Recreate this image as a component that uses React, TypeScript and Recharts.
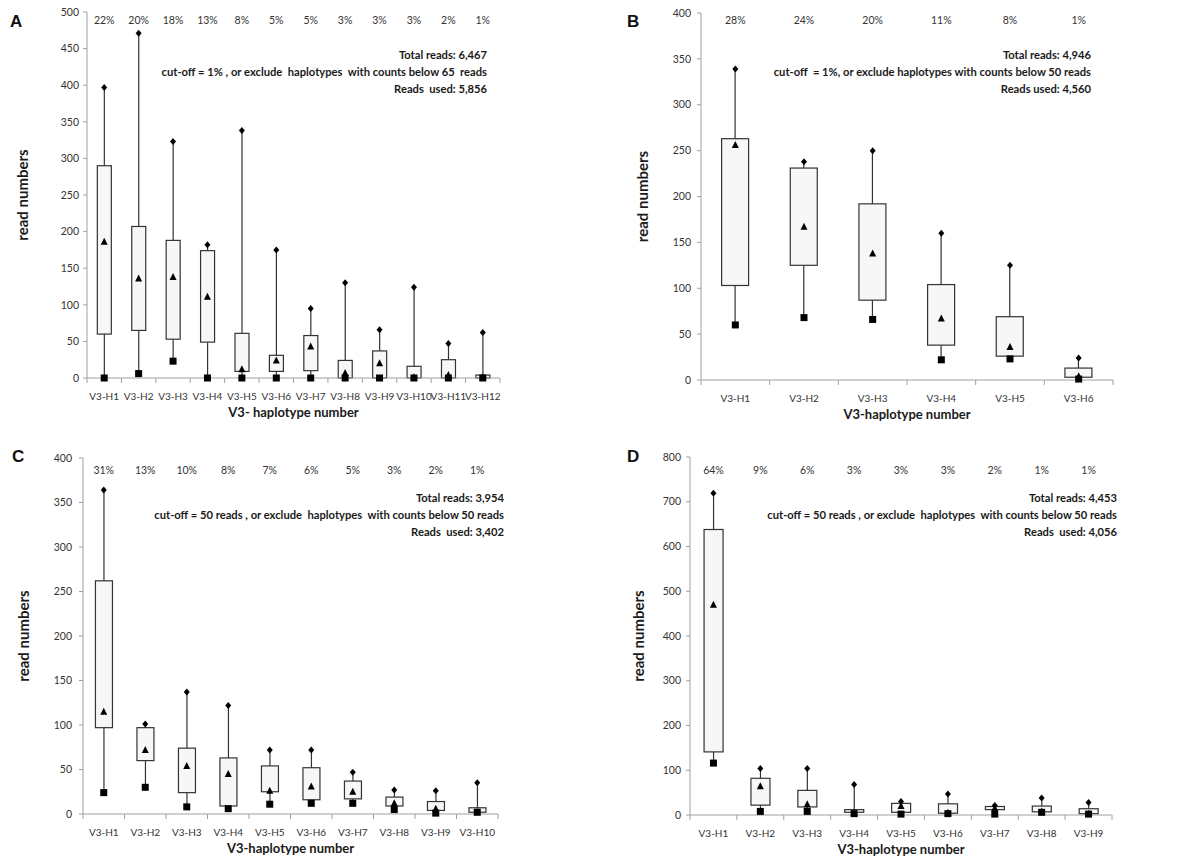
import React from "react";
import { ComposedChart, Bar, Scatter, XAxis, YAxis, Label } from "recharts";

// panel A
const A_CATS = ["V3-H1", "V3-H2", "V3-H3", "V3-H4", "V3-H5", "V3-H6", "V3-H7", "V3-H8", "V3-H9", "V3-H10", "V3-H11", "V3-H12"];
const A_PCT = ["22%", "20%", "18%", "13%", "8%", "5%", "5%", "3%", "3%", "3%", "2%", "1%"];
const A_MIN = [0, 6, 23, 0, 0, 0, 0, 0, 0, 0, 0, 0];
const A_Q1 = [60, 65, 53, 49, 9, 9, 10, 0, 0, 0, 0, 0];
const A_Q3 = [290, 207, 188, 174, 61, 31, 58, 24, 37, 16, 25, 4];
const A_MAX = [397, 471, 323, 182, 338, 175, 95, 130, 66, 124, 47, 62];
const A_MEAN = [186, 136, 138, 111, 12, 24, 43, 7, 20, 1, 4, 1];
const A_NOTES = ["Total reads: 6,467", "cut-off = 1% , or exclude  haplotypes  with counts below 65  reads", "Reads  used: 5,856"];

// panel B
const B_CATS = ["V3-H1", "V3-H2", "V3-H3", "V3-H4", "V3-H5", "V3-H6"];
const B_PCT = ["28%", "24%", "20%", "11%", "8%", "1%"];
const B_MIN = [60, 68, 66, 22, 23, 1];
const B_Q1 = [103, 125, 87, 38, 26, 3];
const B_Q3 = [263, 231, 192, 104, 69, 13];
const B_MAX = [339, 238, 250, 160, 125, 24];
const B_MEAN = [256, 167, 138, 67, 36, 4];
const B_NOTES = ["Total reads: 4,946", "cut-off  = 1%, or exclude haplotypes with counts below 50 reads", "Reads used: 4,560"];

// panel C
const C_CATS = ["V3-H1", "V3-H2", "V3-H3", "V3-H4", "V3-H5", "V3-H6", "V3-H7", "V3-H8", "V3-H9", "V3-H10"];
const C_PCT = ["31%", "13%", "10%", "8%", "7%", "6%", "5%", "3%", "2%", "1%"];
const C_MIN = [24, 30, 8, 6, 11, 12, 12, 5, 1, 2];
const C_Q1 = [97, 60, 24, 9, 25, 16, 17, 9, 4, 2];
const C_Q3 = [262, 97, 74, 63, 54, 52, 37, 19, 14, 7];
const C_MAX = [364, 101, 137, 122, 72, 72, 47, 27, 26, 35];
const C_MEAN = [115, 72, 54, 45, 26, 31, 25, 12, 6, 2];
const C_NOTES = ["Total reads: 3,954", "cut-off = 50 reads , or exclude  haplotypes  with counts below 50 reads", "Reads  used: 3,402"];

// panel D
const D_CATS = ["V3-H1", "V3-H2", "V3-H3", "V3-H4", "V3-H5", "V3-H6", "V3-H7", "V3-H8", "V3-H9"];
const D_PCT = ["64%", "9%", "6%", "3%", "3%", "3%", "2%", "1%", "1%"];
const D_MIN = [116, 8, 8, 3, 2, 3, 2, 6, 2];
const D_Q1 = [141, 22, 18, 6, 6, 4, 12, 7, 3];
const D_Q3 = [638, 82, 55, 12, 26, 25, 19, 20, 14];
const D_MAX = [719, 104, 104, 68, 30, 47, 21, 38, 28];
const D_MEAN = [470, 64, 24, 5, 20, 5, 15, 8, 3];
const D_NOTES = ["Total reads: 4,453", "cut-off = 50 reads , or exclude  haplotypes  with counts below 50 reads", "Reads  used: 4,056"];

const A_TICKS = [0, 50, 100, 150, 200, 250, 300, 350, 400, 450, 500];
const BC_TICKS = [0, 50, 100, 150, 200, 250, 300, 350, 400];
const D_TICKS = [0, 100, 200, 300, 400, 500, 600, 700, 800];

const W = 600;
const H = 433;
const FONT = "Lato, 'Open Sans', sans-serif";
const AXIS_GRAY = "#a0a0a0";
const TEXT_GRAY = "#333";

function buildRows(cats: string[], pct: string[], mn: number[], q1: number[], q3: number[], mx: number[], mean: number[]) {
	return cats.map((c, i) => ({
		cat: c,
		pct: pct[i],
		base: mn[i],
		lowW: q1[i] - mn[i],
		box: q3[i] - q1[i],
		upW: mx[i] - q3[i],
		min: mn[i],
		max: mx[i],
		mean: mean[i],
	}));
}

const PANELS = [
	{
		letter: "A", left: 0, top: 0, plot: { l: 87, r: 500, t: 12, b: 378 },
		rows: buildRows(A_CATS, A_PCT, A_MIN, A_Q1, A_Q3, A_MAX, A_MEAN),
		ticks: A_TICKS, yTickMargin: 4, yLabelX: 22, notes: A_NOTES, noteRight: 487, noteTop: 46, pctY: 24,
		xTitle: "V3- haplotype number", letterX: 10, letterY: 28,
	},
	{
		letter: "B", left: 600, top: 0, plot: { l: 101, r: 513, t: 13, b: 380 },
		rows: buildRows(B_CATS, B_PCT, B_MIN, B_Q1, B_Q3, B_MAX, B_MEAN),
		ticks: BC_TICKS, yTickMargin: 6, yLabelX: 42, notes: B_NOTES, noteRight: 491, noteTop: 46, pctY: 24,
		xTitle: "V3-haplotype number", letterX: 27, letterY: 28,
	},
	{
		letter: "C", left: 0, top: 433, plot: { l: 83, r: 498, t: 25, b: 381 },
		rows: buildRows(C_CATS, C_PCT, C_MIN, C_Q1, C_Q3, C_MAX, C_MEAN),
		ticks: BC_TICKS, yTickMargin: 7, yLabelX: 23, notes: C_NOTES, noteRight: 504, noteTop: 56, pctY: 41,
		xTitle: "V3-haplotype number", letterX: 12, letterY: 30,
	},
	{
		letter: "D", left: 600, top: 433, plot: { l: 90, r: 512, t: 24, b: 382 },
		rows: buildRows(D_CATS, D_PCT, D_MIN, D_Q1, D_Q3, D_MAX, D_MEAN),
		ticks: D_TICKS, yTickMargin: 5, yLabelX: 38, notes: D_NOTES, noteRight: 517, noteTop: 56, pctY: 41,
		xTitle: "V3-haplotype number", letterX: 27, letterY: 30,
	},
];

const Whisker = (props: any) => {
	const { x, y, width, height } = props;
	if (!height) return <g />;
	const cx = x + width / 2;
	return <line x1={cx} x2={cx} y1={y} y2={y + height} stroke="#333" strokeWidth={1.2} />;
};

const BoxShape = (props: any) => {
	const { x, y, width, height } = props;
	return <rect x={x} y={y} width={width} height={Math.max(height, 0.5)} fill="#f7f7f7" stroke="#333" strokeWidth={1.2} />;
};

const Square = (props: any) => {
	const { cx, cy } = props;
	return <rect x={cx - 3.5} y={cy - 3.5} width={7} height={7} fill="#000" />;
};

const Diamond = (props: any) => {
	const { cx, cy } = props;
	return <polygon points={`${cx},${cy - 3.5} ${cx + 3},${cy} ${cx},${cy + 3.5} ${cx - 3},${cy}`} fill="#000" />;
};

const Triangle = (props: any) => {
	const { cx, cy } = props;
	return <polygon points={`${cx},${cy - 4} ${cx + 3.5},${cy + 3} ${cx - 3.5},${cy + 3}`} fill="#000" />;
};

function Panel({ p }: { p: (typeof PANELS)[number] }) {
	const n = p.rows.length;
	const half = (p.plot.r - p.plot.l) / n / 2;

	const CatTick = (props: any) => {
		const { x, y, payload, index } = props;
		const off = payload && payload.offset ? payload.offset : half;
		return (
			<g>
				<line x1={x - off} x2={x - off} y1={y} y2={y + 5} stroke={AXIS_GRAY} />
				{index === n - 1 && <line x1={x + off} x2={x + off} y1={y} y2={y + 5} stroke={AXIS_GRAY} />}
				<text x={x} y={y + 22} textAnchor="middle" fontSize={10} fill={TEXT_GRAY} fontFamily={FONT}>
					{payload.value}
				</text>
			</g>
		);
	};

	const PctTick = (props: any) => {
		const { x, payload } = props;
		return (
			<text x={x} y={p.pctY} textAnchor="middle" fontSize={10.5} fill={TEXT_GRAY} fontFamily={FONT}>
				{payload.value}
			</text>
		);
	};

	return (
		<div style={{ position: "absolute", left: p.left, top: p.top, width: W, height: H }}>
			<ComposedChart
				width={W}
				height={H}
				data={p.rows}
				barCategoryGap="30%"
				margin={{ top: p.plot.t - 1, right: W - p.plot.r, left: 0, bottom: H - p.plot.b - 45 }}
			>
				<XAxis
					dataKey="cat"
					interval={0}
					height={45}
					tickLine={false}
					tickSize={0}
					tickMargin={0}
					axisLine={{ stroke: AXIS_GRAY }}
					tick={CatTick}
				>
					<Label
						content={(lp: any) => {
							const vb = lp.viewBox;
							return (
								<text x={vb.x + vb.width / 2} y={vb.y + 39} textAnchor="middle" fontSize={13} fontWeight="bold" fill="#1a1a1a" fontFamily={FONT}>
									{p.xTitle}
								</text>
							);
						}}
					/>
				</XAxis>
				<XAxis
					xAxisId="top"
					dataKey="pct"
					orientation="top"
					interval={0}
					height={1}
					axisLine={false}
					tickLine={false}
					tickSize={0}
					tickMargin={0}
					tick={PctTick}
				/>
				<YAxis
					width={p.plot.l}
					domain={[0, p.ticks[p.ticks.length - 1]]}
					ticks={p.ticks}
					interval={0}
					tickSize={4}
					tickMargin={p.yTickMargin}
					axisLine={{ stroke: AXIS_GRAY }}
					tickLine={{ stroke: AXIS_GRAY }}
					tick={{ fontSize: 10.5, fill: TEXT_GRAY, fontFamily: FONT }}
				>
					<Label
						content={(lp: any) => {
							const vb = lp.viewBox;
							const cy = vb.y + vb.height / 2;
							return (
								<text
									x={p.yLabelX}
									y={cy}
									transform={`rotate(-90, ${p.yLabelX}, ${cy})`}
									textAnchor="middle"
									dominantBaseline="central"
									fontSize={15}
									fontWeight="bold"
									fill="#1a1a1a"
									fontFamily={FONT}
								>
									read numbers
								</text>
							);
						}}
					/>
				</YAxis>
				<Bar dataKey="base" stackId="s" shape={() => <g />} isAnimationActive={false} />
				<Bar dataKey="lowW" stackId="s" shape={Whisker} isAnimationActive={false} />
				<Bar dataKey="box" stackId="s" shape={BoxShape} isAnimationActive={false} />
				<Bar dataKey="upW" stackId="s" shape={Whisker} isAnimationActive={false} />
				<Scatter dataKey="max" shape={Diamond} isAnimationActive={false} />
				<Scatter dataKey="min" shape={Square} isAnimationActive={false} />
				<Scatter dataKey="mean" shape={Triangle} isAnimationActive={false} />
			</ComposedChart>
			<div
				style={{
					position: "absolute",
					left: p.letterX,
					top: p.letterY - 16,
					fontFamily: "'Liberation Sans', Arial, sans-serif",
					fontWeight: "bold",
					fontSize: 17,
					color: "#111",
				}}
			>
				{p.letter}
			</div>
			<div
				style={{
					position: "absolute",
					right: W - p.noteRight,
					top: p.noteTop,
					textAlign: "right",
					whiteSpace: "pre",
					fontFamily: FONT,
					fontWeight: "bold",
					fontSize: 11.2,
					lineHeight: "17px",
					color: "#1a1a1a",
				}}
			>
				{p.notes.map((t) => (
					<div key={t}>{t}</div>
				))}
			</div>
		</div>
	);
}

export default function App() {
	return (
		<div style={{ position: "absolute", left: 0, top: 0, width: 1200, height: 866, background: "#fff" }}>
			{PANELS.map((p) => (
				<Panel key={p.letter} p={p} />
			))}
		</div>
	);
}
